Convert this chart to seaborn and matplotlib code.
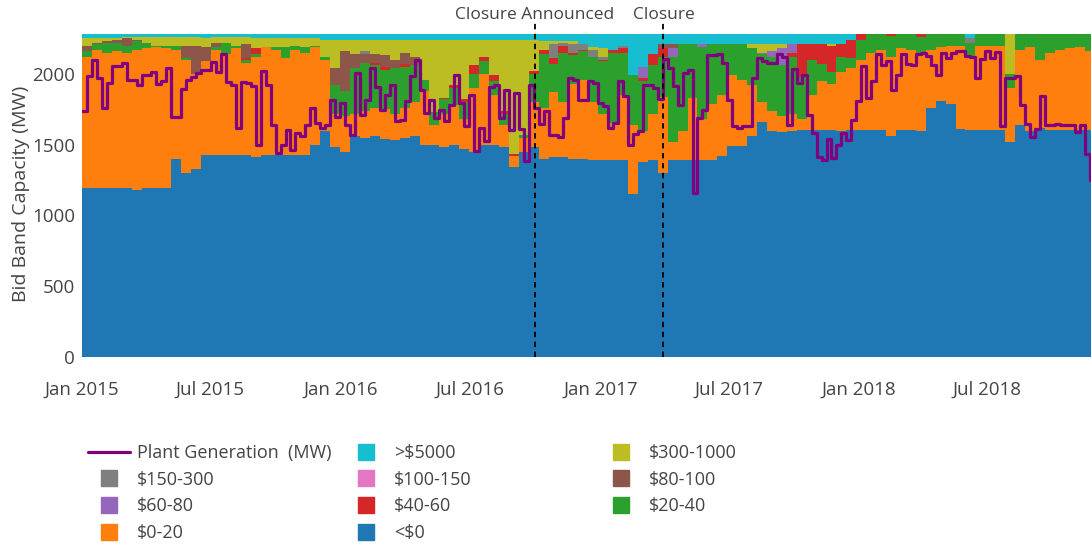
import pandas as pd
import matplotlib
matplotlib.use("Agg")
import matplotlib.pyplot as plt
import matplotlib.dates as mdates
from matplotlib.lines import Line2D
import seaborn as sns

# bid band capacity in MW, fortnightly blocks starting 1 Jan 2015
neg = [1195, 1195, 1195, 1195, 1195, 1180, 1195, 1195, 1195,
       1400, 1300, 1330, 1430, 1430, 1430, 1430, 1430,
       1410, 1430, 1430, 1430, 1430, 1430,
       1500, 1595, 1480, 1450,
       1560, 1550, 1560, 1540, 1530, 1550, 1560,
       1500, 1500, 1480, 1500, 1470, 1450, 1500, 1500, 1480, 1340, 1450, 1480,
       1400, 1410, 1410, 1400, 1400,
       1395, 1395, 1395, 1395, 1150, 1380, 1395, 1300, 1395, 1395, 1395, 1395, 1395, 1420,
       1489, 1489, 1560,
       1660, 1600, 1590, 1600, 1607, 1607, 1607, 1607, 1600, 1607, 1607, 1607, 1607, 1560, 1607, 1607, 1600,
       1760, 1811, 1790, 1610, 1607, 1607, 1607, 1607, 1520, 1640, 1600, 1620, 1607, 1607, 1607, 1607, 1607]
b0_20 = [925, 975, 955, 965, 955, 990, 985, 995, 985,
         770, 800, 670, 660, 740, 710, 750, 650,
         710, 760, 740, 680, 740, 720,
         690, 505, 240, 250,
         160, 190, 200, 210, 190, 210, 240,
         380, 140, 240, 280, 210, 450, 500, 350, 160, 80, 100, 320,
         360, 460, 390, 530, 560,
         405, 325, 255, 455, 490, 220, 325, 540, 125, 205, 435, 285, 395, 430,
         501, 471, 360,
         140, 140, 110, 120, 73, 243, 343, 323, 410, 433, 493, 543, 563, 560, 573, 563, 550,
         410, 379, 410, 590, 513, 593, 593, 588, 380, 530, 590, 480, 543, 563, 573, 583, 553]
b20_40 = [40, 40, 70, 60, 50, 60, 40, 10, 20,
          30, 10, 0, 0, 20, 80, 20, 20,
          20, 0, 20, 80, 25, 40,
          10, 20, 200, 180,
          320, 340, 300, 280, 320, 290, 260,
          80, 90, 100, 120, 120, 100, 90, 100, 80, 0, 20, 200,
          380, 200, 350, 200, 200,
          320, 370, 500, 300, 350, 350, 340, 280, 600, 610, 380, 510, 420, 360,
          220, 250, 260,
          340, 380, 360, 400, 300, 250, 120, 80, 110, 70, 140, 130, 110, 150, 100, 110, 110,
          110, 90, 80, 80, 100, 80, 80, 85, 100, 110, 90, 180, 130, 110, 100, 90, 120]
b40_60 = [0, 0, 0, 0, 0, 0, 0, 0, 0,
          0, 0, 0, 0, 0, 0, 0, 10,
          40, 0, 0, 0, 0, 0,
          0, 0, 0, 0,
          0, 0, 20, 20, 0, 20, 0,
          0, 0, 10, 20, 20, 60, 30, 40, 20, 15, 0, 20,
          30, 40, 50, 20, 10,
          0, 10, 20, 30, 0, 20, 80, 60, 0, 0, 0, 0, 0, 0,
          0, 0, 0,
          0, 0, 0, 30, 230, 110, 140, 190, 90, 130, 40, 0, 0, 10, 0, 0, 20,
          0, 0, 0, 0, 0, 0, 0, 0, 0, 0, 0, 0, 0, 0, 0, 0, 0]
b60_80 = [0, 0, 0, 0, 0, 0, 0, 0, 0,
          0, 0, 0, 0, 0, 0, 0, 0,
          0, 0, 0, 0, 0, 0,
          0, 0, 0, 0,
          0, 0, 0, 0, 0, 0, 0,
          0, 0, 0, 0, 0, 0, 0, 0, 0, 0, 0, 0,
          0, 0, 0, 0, 0,
          0, 0, 0, 0, 0, 80, 0, 0, 60, 0, 0, 20, 0, 0,
          0, 0, 0,
          10, 40, 120, 60, 0, 0, 0, 0, 0, 0, 0, 0, 0, 0, 0, 0, 0,
          0, 0, 0, 0, 0, 0, 0, 0, 0, 0, 0, 0, 0, 0, 0, 0, 0]
b80_100 = [40, 10, 10, 20, 50, 10, 0, 0, 0,
           0, 90, 200, 100, 30, 0, 0, 100,
           0, 0, 0, 0, 0, 0,
           0, 0, 120, 280,
           100, 60, 60, 80, 60, 80, 60,
           0, 0, 0, 0, 0, 0, 0, 0, 0, 0, 0, 0,
           0, 0, 0, 0, 0,
           0, 0, 0, 0, 0, 0, 0, 30, 30, 0, 0, 0, 0, 0,
           0, 0, 0,
           0, 0, 0, 0, 0, 0, 0, 0, 0, 0, 0, 0, 0, 0, 0, 0, 0,
           0, 0, 0, 0, 0, 0, 0, 0, 0, 0, 0, 0, 0, 0, 0, 0, 0]
b150_300 = [0, 0, 0, 0, 0, 0, 0, 0, 0,
            0, 0, 0, 0, 0, 0, 0, 0,
            0, 0, 0, 0, 0, 0,
            0, 0, 0, 0,
            0, 20, 0, 0, 0, 0, 0,
            0, 0, 0, 0, 0, 0, 0, 0, 0, 0, 0, 0,
            0, 100, 20, 60, 40,
            50, 20, 0, 20, 0, 0, 0, 0, 0, 0, 0, 0, 0, 0,
            0, 0, 0,
            0, 0, 0, 0, 0, 0, 0, 0, 0, 0, 0, 0, 0, 0, 0, 0, 0,
            0, 0, 0, 0, 30, 0, 0, 0, 0, 0, 0, 0, 0, 0, 0, 0, 0]
b300_1000 = [50, 30, 20, 15, 10, 20, 40, 60, 60,
             60, 60, 60, 60, 40, 40, 60, 50,
             70, 60, 60, 60, 60, 65,
             50, 120, 200, 80,
             100, 80, 100, 110, 140, 90, 120,
             280, 510, 410, 320, 420, 180, 120, 250, 500, 805, 670, 220,
             60, 20, 10, 20, 0,
             20, 60, 0, 0, 0, 0, 0, 0, 0, 0, 0, 0, 0, 0,
             0, 0, 30,
             60, 50, 30, 0, 0, 0, 0, 10, 0, 0, 0, 0, 0, 0, 0, 0, 0,
             0, 0, 0, 0, 0, 0, 0, 0, 280, 0, 0, 0, 0, 0, 0, 0, 0]
b5000 = [30, 30, 30, 25, 20, 20, 20, 20, 20,
         20, 20, 20, 30, 20, 20, 20, 20,
         30, 30, 30, 30, 25, 25,
         30, 40, 40, 40,
         40, 40, 40, 40, 40, 40, 40,
         40, 40, 40, 40, 40, 40, 40, 40, 40, 40, 40, 40,
         50, 50, 50, 50, 70,
         90, 100, 110, 80, 290, 230, 140, 70, 70, 70, 70, 70, 70, 70,
         70, 70, 70,
         70, 70, 70, 70, 70, 70, 70, 70, 70, 40, 0, 0, 0, 0, 0, 0, 0,
         0, 0, 0, 0, 30, 0, 0, 0, 0, 0, 0, 0, 0, 0, 0, 0, 0]

# weekly plant generation (MW)
gen = [1736, 1984, 2101, 1972, 1760, 1936, 2054, 2054, 2078, 1960, 1960, 1925,
       1990, 1990, 2010, 1930, 1950, 2040, 1694, 1694, 1892, 1960, 1975, 2003,
       2025, 2025, 2085, 2010, 2143, 1946, 1920, 1618, 1946, 1935,
       1913, 1500, 2019, 1925, 1642, 1442, 1500, 1607, 1465, 1583, 1560, 1642,
       1760, 1654, 1618, 1642, 1812, 1694, 1795, 1642, 1571, 2007, 1707, 1818,
       2042, 1906, 1748, 1854, 1925, 1670, 1677, 1807, 1984,
       2101, 1889, 1724, 1818, 1689, 1748, 1670, 1783, 1995, 1795, 1630, 1854,
       1453, 1618, 1524, 1906, 1925, 1689, 1889, 1607, 1866, 1614, 1383, 1925,
       1760, 1647, 1736, 1567, 1571, 1552, 1689, 1972, 1960, 1818,
       1818, 1948, 1936, 1795, 1771, 1618, 1654, 1948, 1842, 1500, 1576, 1595,
       1925, 1925, 1901, 1826, 2108, 2042, 1913, 1778, 2007, 2024, 1159, 1689,
       1748, 2132, 2132, 2137, 2078, 1818, 1630, 1618, 1630, 1630,
       1972, 2110, 2090, 2078, 2078, 2137, 2120, 1642, 2037, 1936, 1991, 1712,
       1583, 1411, 1390, 1543, 1406, 1500, 1583, 1536, 1677, 1807, 2054, 1830,
       1948, 2137, 2061, 2094, 1889, 1995, 2141, 2071, 2061, 2137,
       2148, 2125, 2066, 1995, 2148, 2113, 2148, 2160, 2160, 2125, 2118, 1972,
       2108, 2160, 2113, 2155, 1630, 1972, 1972, 1984, 1783, 1647, 1552, 1613,
       1842, 1637, 1642, 1649, 1637, 1637, 1637, 1590, 1637, 1435, 1253]

band_labels = ["<$0", "$0-20", "$20-40", "$40-60", "$60-80", "$80-100",
               "$100-150", "$150-300", "$300-1000", ">$5000"]
band_colors = ["#1f77b4", "#ff7f0e", "#2ca02c", "#d62728", "#9467bd", "#8c564b",
               "#e377c2", "#7f7f7f", "#bcbd22", "#17becf"]
gen_color = "#800080"
events = {"Closure Announced": "2016-10-01", "Closure": "2017-03-31"}

sns.set_theme(style="white")
plt.rcParams["font.family"] = ["Open Sans", "DejaVu Sans"]
text_col = "#444444"

# fortnightly / weekly time axes, one extra step so the last block is drawn
band_x = pd.date_range("2015-01-01", periods=len(neg) + 1, freq="14D")
gen_x = pd.date_range("2015-01-01", periods=len(gen) + 1, freq="7D")

bands = {"<$0": neg, "$0-20": b0_20, "$20-40": b20_40, "$40-60": b40_60,
         "$60-80": b60_80, "$80-100": b80_100, "$150-300": b150_300,
         "$300-1000": b300_1000, ">$5000": b5000}
stack_y = [v + v[-1:] for v in bands.values()]
stack_c = [band_colors[band_labels.index(k)] for k in bands]

fig = plt.figure(figsize=(10.91, 5.44), dpi=100)
ax = fig.add_axes([82 / 1091, 1 - 357 / 544, 1 - 82 / 1091, 327 / 544])

ax.stackplot(band_x, *stack_y, colors=stack_c, step="post", linewidth=0)
sns.lineplot(x=gen_x, y=gen + gen[-1:], drawstyle="steps-post", color=gen_color,
             lw=2.3, estimator=None, ax=ax)

for name, d in events.items():
    d = pd.Timestamp(d)
    ax.axvline(d, ymin=0, ymax=1.02, color="black", lw=1.3, ls=(0, (3, 2.5)), clip_on=False)
    ax.text(d, 1.047, name, transform=ax.get_xaxis_transform(), ha="center", va="center",
            fontsize=12.5, color=text_col)

ax.set_xlim(pd.Timestamp("2015-01-01"), pd.Timestamp("2018-11-24"))
ax.set_ylim(0, 2310)
ax.set_yticks([0, 500, 1000, 1500, 2000])
ax.xaxis.set_major_locator(mdates.MonthLocator(bymonth=[1, 7]))
ax.xaxis.set_major_formatter(mdates.DateFormatter("%b %Y"))
ax.tick_params(axis="both", length=0, labelsize=13.5, colors=text_col)
ax.tick_params(axis="x", pad=17)
ax.tick_params(axis="y", pad=5)
ax.set_xlabel("")
ax.set_ylabel("Bid Band Capacity (MW)", fontsize=14, color=text_col)
ax.yaxis.set_label_coords(-0.052, 0.5)
sns.despine(ax=ax, left=True, bottom=True)

# legend laid out in three columns like the original
def sq(c):
    return Line2D([], [], marker="s", ls="none", markersize=11.5,
                  markerfacecolor=c, markeredgecolor=c)

gen_h = Line2D([], [], color=gen_color, lw=2.3)
col = dict(zip(band_labels, band_colors))
columns = [
    (88, [(gen_h, "Plant Generation  (MW)"), (sq(col["$150-300"]), "$150-300"),
          (sq(col["$60-80"]), "$60-80"), (sq(col["$0-20"]), "$0-20")]),
    (345, [(sq(col[">$5000"]), ">$5000"), (sq(col["$100-150"]), "$100-150"),
           (sq(col["$40-60"]), "$40-60"), (sq(col["<$0"]), "<$0")]),
    (600, [(sq(col["$300-1000"]), "$300-1000"), (sq(col["$80-100"]), "$80-100"),
           (sq(col["$20-40"]), "$20-40")]),
]
for x0, items in columns:
    leg = fig.legend([h for h, _ in items], [t for _, t in items], loc="upper left",
                     bbox_to_anchor=(x0 / 1091, 1 - 444 / 544), frameon=False,
                     borderpad=0, borderaxespad=0, handlelength=2.3, handletextpad=0.42,
                     labelspacing=0.48, fontsize=13)
    for t in leg.get_texts():
        t.set_color(text_col)

fig.savefig("out.png", dpi=100)
